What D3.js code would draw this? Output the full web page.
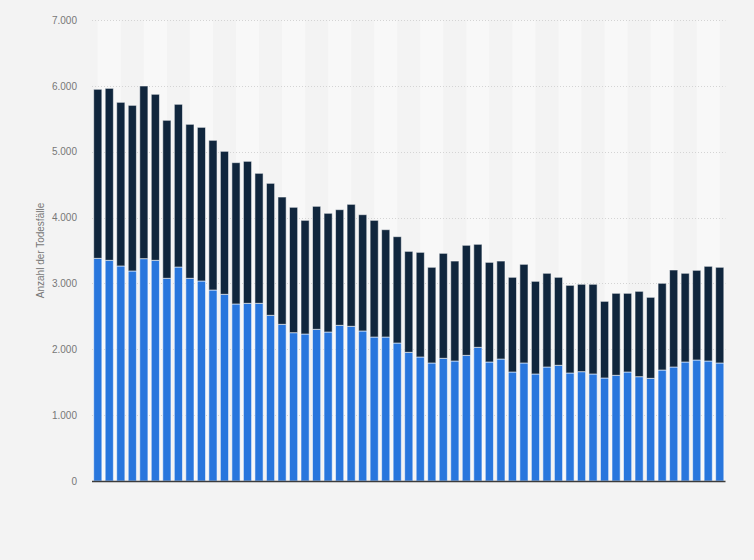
<!DOCTYPE html>
<html>
<head>
<meta charset="utf-8">
<script src="https://cdn.jsdelivr.net/npm/d3@7"></script>
<style>
  html, body { margin: 0; padding: 0; background: #f3f3f3; }
  svg { display: block; font-family: "Liberation Sans", Arial, sans-serif; }
</style>
</head>
<body>
<svg width="754" height="560"></svg>
<script>
// Unterer Teil der Säulen (blau)
const blueValues = [
  3381, 3351, 3265, 3189, 3376, 3351, 3078, 3249, 3078, 3037,
  2900, 2835, 2688, 2698, 2698, 2516, 2379, 2252, 2232, 2303,
  2262, 2364, 2349, 2278, 2186, 2186, 2095, 1954, 1883, 1792,
  1863, 1822, 1908, 2030, 1807, 1852, 1655, 1792, 1625, 1731,
  1757, 1640, 1660, 1625, 1564, 1605, 1655, 1584, 1559, 1685,
  1731, 1807, 1837, 1822, 1792
];

// Oberer Teil der Säulen (dunkelblau)
const darkValues = [
  2567, 2611, 2485, 2515, 2622, 2521, 2399, 2471, 2338, 2333,
  2273, 2171, 2146, 2156, 1974, 2004, 1933, 1904, 1726, 1868,
  1803, 1756, 1852, 1766, 1772, 1630, 1615, 1533, 1589, 1453,
  1594, 1518, 1671, 1564, 1513, 1488, 1438, 1498, 1407, 1423,
  1336, 1331, 1327, 1362, 1164, 1245, 1195, 1296, 1230, 1317,
  1473, 1347, 1362, 1438, 1453
];

// Kategorien (keine Beschriftung sichtbar)
const categories = blueValues.map((_, i) => i);

const yTicks = [0, 1000, 2000, 3000, 4000, 5000, 6000, 7000];
const yTitle = "Anzahl der Todesfälle";

const de = d3.formatLocale({ decimal: ",", thousands: ".", grouping: [3], currency: ["", " €"] });
const fmt = de.format(",.0f");

const svg = d3.select("svg");
const plotLeft = 92, plotRight = 725.5, plotTop = 20, plotBottom = 481;

const x = d3.scaleBand()
  .domain(categories)
  .range([plotLeft, plotRight])
  .paddingInner(0.29)
  .paddingOuter(0.145);

const step = x.step();
const y = d3.scaleLinear().domain([0, 7000]).range([plotBottom, plotTop]);

// helle Streifen im Hintergrund (jeweils zwei Kategorien, von Mitte zu Mitte)
const bandStarts = categories.filter(i => i % 4 === 0 && i + 2 < categories.length);
svg.append("g")
  .selectAll("rect")
  .data(bandStarts)
  .enter().append("rect")
  .attr("x", d => x(d) + x.bandwidth() / 2)
  .attr("width", step * 2)
  .attr("y", plotTop)
  .attr("height", plotBottom - plotTop)
  .attr("fill", "#f8f8f8");

// Gitterlinien
svg.append("g")
  .selectAll("line")
  .data(yTicks.filter(d => d > 0))
  .enter().append("line")
  .attr("x1", plotLeft)
  .attr("x2", plotRight)
  .attr("y1", d => Math.round(y(d)) + 0.5)
  .attr("y2", d => Math.round(y(d)) + 0.5)
  .attr("stroke", "#d4d4d4")
  .attr("stroke-dasharray", "1,2");

// Y-Achse
const yAxis = svg.append("g")
  .attr("transform", `translate(${plotLeft - 15},0)`)
  .call(d3.axisLeft(y).tickValues(yTicks).tickFormat(fmt).tickSize(0).tickPadding(0));
yAxis.select(".domain").remove();
yAxis.selectAll("text")
  .attr("fill", "#777")
  .attr("font-size", 10)
  .attr("font-family", "Liberation Sans, Arial, sans-serif");

svg.append("text")
  .attr("transform", `translate(44,${(plotTop + plotBottom) / 2}) rotate(-90)`)
  .attr("text-anchor", "middle")
  .attr("fill", "#777")
  .attr("font-size", 10)
  .text(yTitle);

// gestapelte Säulen
const rows = categories.map(i => ({ cat: i, blue: blueValues[i], dark: darkValues[i] }));
const stack = d3.stack().keys(["blue", "dark"])(rows);
const colors = { blue: "#2876dd", dark: "#10263d" };

svg.append("g")
  .selectAll("g")
  .data(stack)
  .enter().append("g")
  .attr("fill", d => colors[d.key])
  .selectAll("rect")
  .data(d => d)
  .enter().append("rect")
  .attr("x", d => x(d.data.cat))
  .attr("width", x.bandwidth())
  .attr("y", d => y(d[1]))
  .attr("height", d => y(d[0]) - y(d[1]))
  .attr("stroke", "#ffffff")
  .attr("stroke-opacity", 0.55)
  .attr("stroke-width", 1);

// X-Achsenlinie
svg.append("line")
  .attr("x1", plotLeft)
  .attr("x2", plotRight)
  .attr("y1", plotBottom + 0.5)
  .attr("y2", plotBottom + 0.5)
  .attr("stroke", "#3c3c3c")
  .attr("stroke-width", 1.5);
</script>
</body>
</html>
